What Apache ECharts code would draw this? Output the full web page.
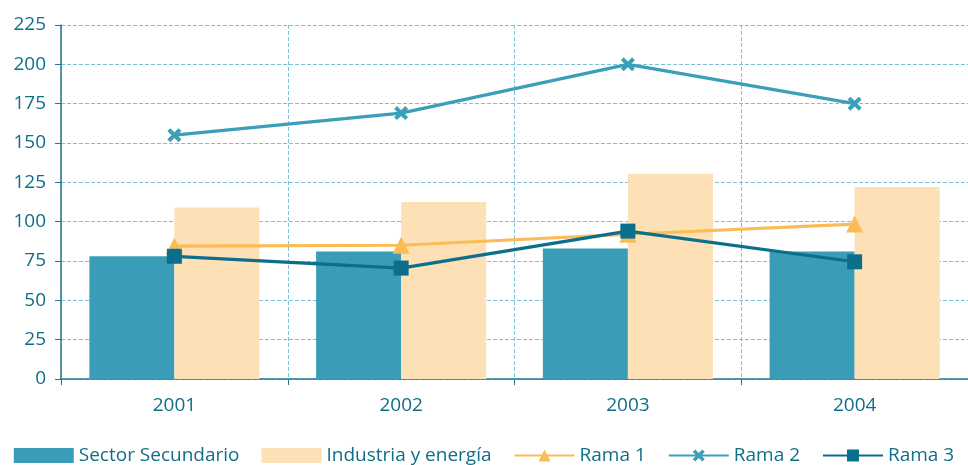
<!DOCTYPE html>
<html><head><meta charset="utf-8">
<script src="https://cdn.jsdelivr.net/npm/echarts@6/dist/echarts.min.js"></script>
<style>html,body{margin:0;padding:0;background:#fff}#c{width:968px;height:465px}</style>
</head><body><div id="c"></div>
<script>
const categories = ['2001', '2002', '2003', '2004'];
const sectorSecundario = [78, 81, 83, 81];
const industriaEnergia = [109, 112.5, 130.5, 122];
const rama1 = [84.5, 85, 92, 98.5];
const rama2 = [155, 169, 200, 175];
const rama3 = [78, 70.5, 94, 74.5];
const yTicks = { min: 0, max: 225, interval: 25 };

const txt = '#0f6e88';
const font = 'Open Sans';
const crossPath = 'path://M2,0 L5,3 L8,0 L10,2 L7,5 L10,8 L8,10 L5,7 L2,10 L0,8 L3,5 L0,2 Z';

const chart = echarts.init(document.getElementById('c'), null, { renderer: 'canvas' });
chart.setOption({
  animation: false,
  grid: { left: 61, right: -4, top: 25, bottom: 86, containLabel: false },
  legend: {
    top: 441, left: 'center', itemWidth: 60, itemHeight: 15, itemGap: 22,
    textStyle: { color: txt, fontSize: 19, fontFamily: font },
    data: [
      { name: 'Sector Secundario', icon: 'rect' },
      { name: 'Industria y energía', icon: 'rect' },
      'Rama 1', 'Rama 2', 'Rama 3'
    ]
  },
  xAxis: {
    type: 'category', data: categories,
    axisLine: { lineStyle: { color: '#1c7a92', width: 1.5 } },
    axisTick: { show: true, length: 6, lineStyle: { color: '#1c7a92' } },
    axisLabel: { color: txt, fontSize: 19, fontFamily: font, margin: 17 },
    splitLine: { show: true, lineStyle: { type: 'dashed', color: '#7fc2d6', width: 1 } }
  },
  yAxis: {
    type: 'value', min: yTicks.min, max: yTicks.max, interval: yTicks.interval,
    axisLine: { show: true, lineStyle: { color: '#1c7a92', width: 1.5 } },
    axisTick: { show: true, length: 6, lineStyle: { color: '#1c7a92' } },
    axisLabel: { color: txt, fontSize: 19, fontFamily: font, margin: 15 },
    splitLine: { show: true, lineStyle: { type: 'dashed', color: '#7fc2d6', width: 1 } }
  },
  series: [
    { name: 'Sector Secundario', type: 'bar', data: sectorSecundario, barGap: '0%', barCategoryGap: '25%',
      itemStyle: { color: '#3a9db7' } },
    { name: 'Industria y energía', type: 'bar', data: industriaEnergia,
      itemStyle: { color: '#fde0b6' } },
    { name: 'Rama 1', type: 'line', data: rama1, symbol: 'triangle', symbolSize: 17,
      lineStyle: { color: '#fbbb55', width: 3.2 }, itemStyle: { color: '#fbbb55' } },
    { name: 'Rama 2', type: 'line', data: rama2, symbol: crossPath, symbolSize: 14,
      lineStyle: { color: '#3aa0ba', width: 3.2 }, itemStyle: { color: '#3aa0ba' } },
    { name: 'Rama 3', type: 'line', data: rama3, symbol: 'rect', symbolSize: 15,
      lineStyle: { color: '#0b6f8c', width: 3.2 }, itemStyle: { color: '#0b6f8c' } }
  ]
});
</script></body></html>
